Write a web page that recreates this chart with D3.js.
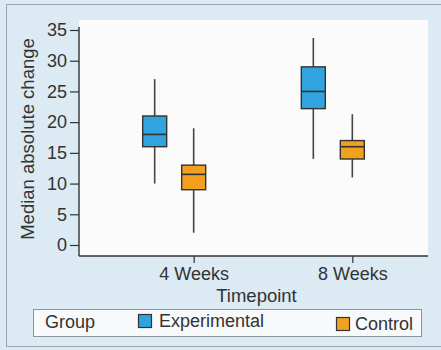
<!DOCTYPE html>
<html>
<head>
<meta charset="utf-8">
<script src="https://cdn.jsdelivr.net/npm/d3@7/dist/d3.min.js"></script>
<style>
  html, body { margin: 0; padding: 0; background: #dbeaf3; }
  svg { display: block; }
  text { font-family: "Liberation Sans", Arial, sans-serif; fill: #333; }
</style>
</head>
<body>
<svg id="chart" width="441" height="350"></svg>
<script>
// Timepoints and groups
const timepoints = ["4 Weeks", "8 Weeks"];
const groups = ["Experimental", "Control"];
const groupColors = ["#2fa4de", "#f1a11f"];

// Box summary per group, one value per timepoint
const experimentalMin = [10, 14];
const experimentalQ1 = [16, 22.2];
const experimentalMedian = [18, 25];
const experimentalQ3 = [21, 29];
const experimentalMax = [27, 33.7];

const controlMin = [2, 11];
const controlQ1 = [9, 14];
const controlMedian = [11.5, 16];
const controlQ3 = [13, 17];
const controlMax = [19, 21.3];

const yTicks = [0, 5, 10, 15, 20, 25, 30, 35];

const boxes = [];
timepoints.forEach((t, i) => {
  boxes.push({ t, g: 0, min: experimentalMin[i], q1: experimentalQ1[i], med: experimentalMedian[i], q3: experimentalQ3[i], max: experimentalMax[i] });
  boxes.push({ t, g: 1, min: controlMin[i], q1: controlQ1[i], med: controlMedian[i], q3: controlQ3[i], max: controlMax[i] });
});

const svg = d3.select("#chart");

// Outer panel and its frame
svg.append("rect").attr("x", 6.5).attr("y", 4.5).attr("width", 440).attr("height", 342)
  .attr("fill", "#dbeaf3").attr("stroke", "#9aa4aa").attr("stroke-width", 1);

const left = 79, right = 428, axisY = 256;
// Plot background
svg.append("rect").attr("x", left).attr("y", 20).attr("width", right - left).attr("height", axisY - 20)
  .attr("fill", "#fcfbfb");

const x = d3.scalePoint().domain(timepoints).range([left, right]).padding(0.6);
const groupOffset = d3.scalePoint().domain([0, 1]).range([-19.5, 19.5]);
const y = d3.scaleLinear().domain([0, 35]).range([245, 30]);
const boxW = 24;
const dark = "#333";

// Y axis
const yAxis = svg.append("g").attr("transform", `translate(${left},0)`)
  .call(d3.axisLeft(y).tickValues(yTicks).tickSize(9).tickPadding(3));
yAxis.select(".domain").remove();
yAxis.selectAll(".tick line").attr("stroke", dark).attr("stroke-width", 1.2);
yAxis.selectAll(".tick text").style("font-size", "18px").attr("fill", "#333")
  .style("font-family", "Liberation Sans, Arial, sans-serif");
svg.append("line").attr("x1", left).attr("x2", left).attr("y1", y(35) - 3).attr("y2", axisY)
  .attr("stroke", dark).attr("stroke-width", 1.4);

// X axis (ticks sit under the Control box of each timepoint)
const xAxis = svg.append("g").attr("transform", `translate(${groupOffset(1)},${axisY})`)
  .call(d3.axisBottom(x).tickSize(7).tickPadding(4));
xAxis.select(".domain").remove();
xAxis.selectAll(".tick line").attr("stroke", dark).attr("stroke-width", 1.2);
xAxis.selectAll(".tick text").style("font-size", "18px").attr("fill", "#333")
  .style("font-family", "Liberation Sans, Arial, sans-serif");
svg.append("line").attr("x1", left).attr("x2", right).attr("y1", axisY).attr("y2", axisY)
  .attr("stroke", dark).attr("stroke-width", 1.4);

// Axis titles
svg.append("text").attr("x", (left + right) / 2 + 3).attr("y", 302)
  .attr("text-anchor", "middle").style("font-size", "18.5px").text("Timepoint");
svg.append("text").attr("transform", "translate(33.5,139) rotate(-90)")
  .attr("text-anchor", "middle").style("font-size", "18.5px").text("Median absolute change");

// Box plots
const bx = d => x(d.t) + groupOffset(d.g);
const boxG = svg.append("g").selectAll("g").data(boxes).join("g");
boxG.append("line")
  .attr("x1", bx).attr("x2", bx)
  .attr("y1", d => y(d.max)).attr("y2", d => y(d.min))
  .attr("stroke", "#444").attr("stroke-width", 1.6);
boxG.append("rect")
  .attr("x", d => bx(d) - boxW / 2).attr("width", boxW)
  .attr("y", d => y(d.q3)).attr("height", d => y(d.q1) - y(d.q3))
  .attr("fill", d => groupColors[d.g]).attr("stroke", dark).attr("stroke-width", 1.4);
boxG.append("line")
  .attr("x1", d => bx(d) - boxW / 2).attr("x2", d => bx(d) + boxW / 2)
  .attr("y1", d => y(d.med)).attr("y2", d => y(d.med))
  .attr("stroke", dark).attr("stroke-width", 1.6);

// Legend
const legend = svg.append("g");
legend.append("rect").attr("x", 33.5).attr("y", 309.5).attr("width", 388).attr("height", 27)
  .attr("fill", "#f7f9fa").attr("stroke", "#8e9498").attr("stroke-width", 1);
legend.append("text").attr("x", 45).attr("y", 328).style("font-size", "18px").text("Group");
const legendItems = [
  { g: 0, sx: 138, tx: 159, ty: 327 },
  { g: 1, sx: 336, tx: 355, ty: 330 }
];
legendItems.forEach(it => {
  legend.append("rect").attr("x", it.sx + 0.5).attr("y", it.ty - 12.5).attr("width", 13).attr("height", 13)
    .attr("fill", groupColors[it.g]).attr("stroke", dark).attr("stroke-width", 1.2);
  legend.append("text").attr("x", it.tx).attr("y", it.ty).style("font-size", "18px").text(groups[it.g]);
});
</script>
</body>
</html>
